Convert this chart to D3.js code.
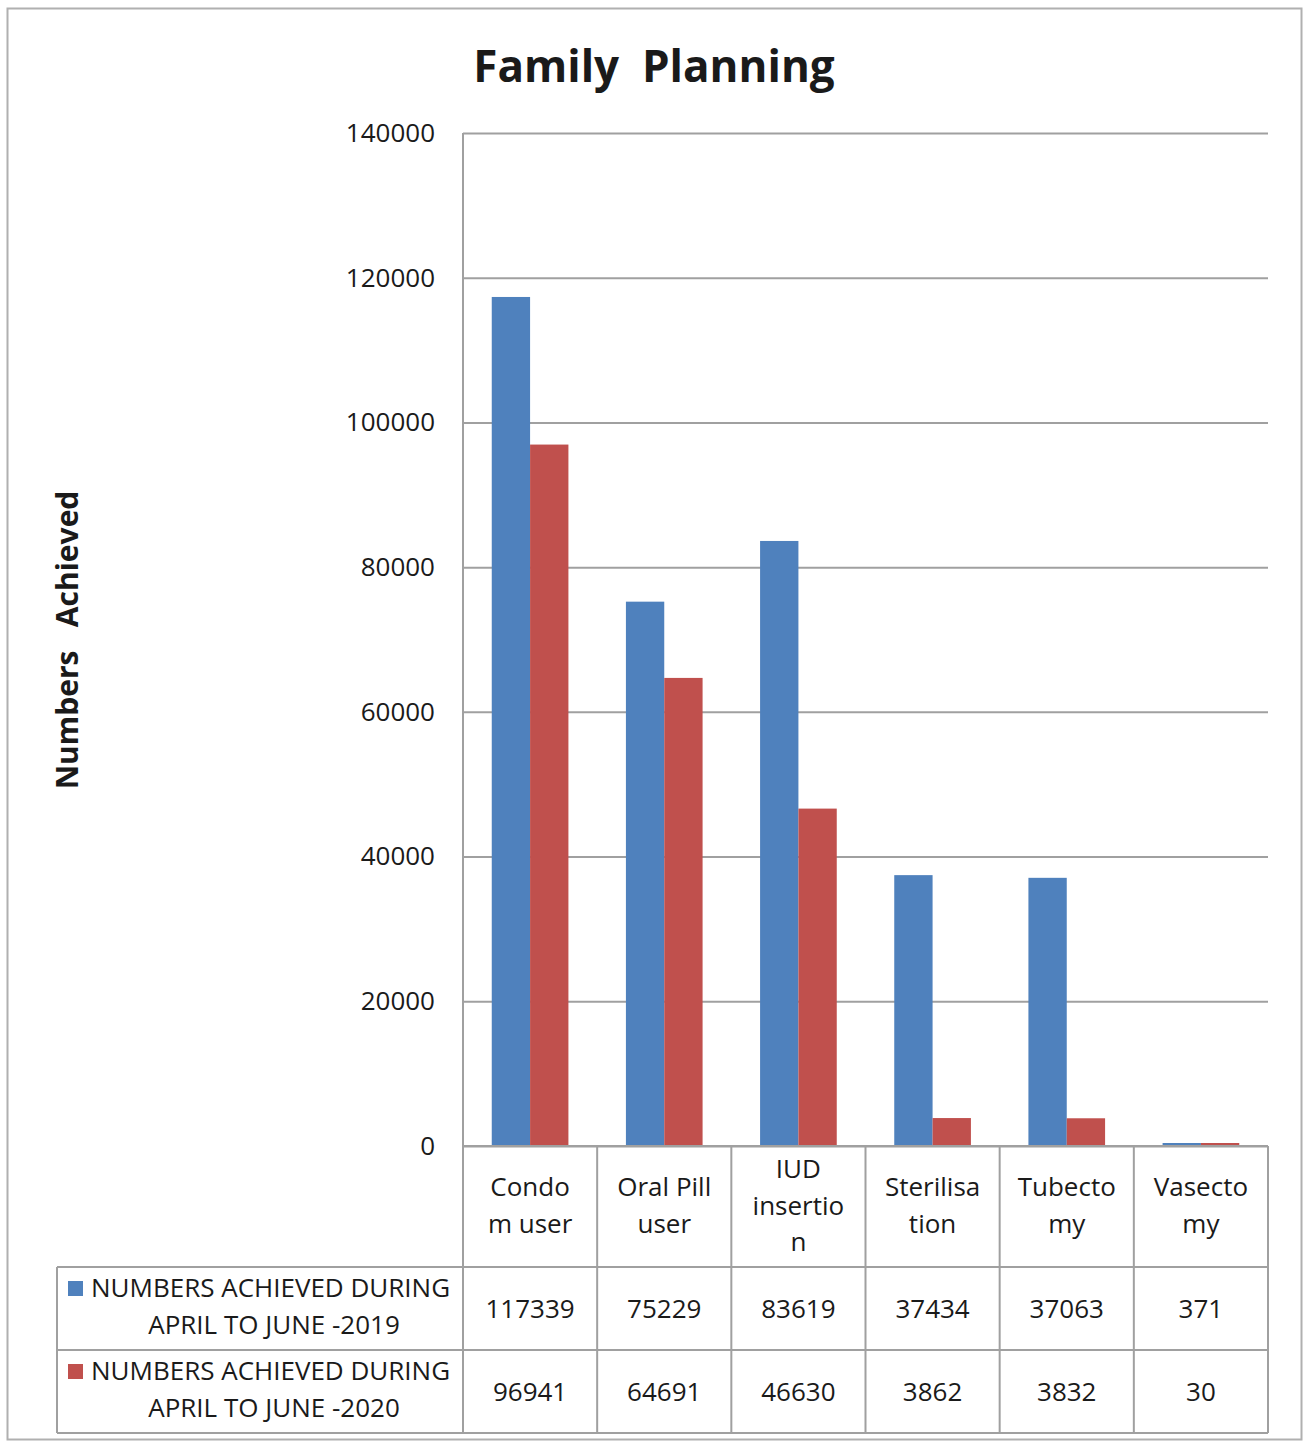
<!DOCTYPE html>
<html>
<head>
<meta charset="utf-8">
<script src="https://cdn.jsdelivr.net/npm/d3@7"></script>
<style>
  body { margin: 0; background: #fff; }
  text { font-family: 'Open Sans', sans-serif; fill: #1a1a1a; }
</style>
</head>
<body>
<div id="chart"></div>
<script>
// categories (as wrapped in the data table) and the two series
const categories = ['Condom user', 'Oral Pill user', 'IUD insertion', 'Sterilisation', 'Tubectomy', 'Vasectomy']
const categoryLines = [['Condo', 'm user'], ['Oral Pill', 'user'], ['IUD', 'insertio', 'n'], ['Sterilisa', 'tion'], ['Tubecto', 'my'], ['Vasecto', 'my']]
const seriesNames = ['NUMBERS ACHIEVED DURING APRIL TO JUNE -2019', 'NUMBERS ACHIEVED DURING APRIL TO JUNE -2020']
const legendLines = [['NUMBERS ACHIEVED DURING', 'APRIL TO JUNE -2019'], ['NUMBERS ACHIEVED DURING', 'APRIL TO JUNE -2020']]
const values2019 = [117339, 75229, 83619, 37434, 37063, 371]
const values2020 = [96941, 64691, 46630, 3862, 3832, 30]
const yTicks = [0, 20000, 40000, 60000, 80000, 100000, 120000, 140000]
const colors = ['#4f81bd', '#c0504d']

const W = 1303
const H = 1445
const plot = { left: 463, right: 1268, top: 133, bottom: 1146 }
const tableLeft = 57
const rowTops = [1146, 1267, 1350, 1433]
const gridColor = '#a0a0a0'
const fs = '26px'

const svg = d3.select('#chart').append('svg')
  .attr('width', W)
  .attr('height', H)

// outer frame
svg.append('rect')
  .attr('x', 7.5).attr('y', 8.5)
  .attr('width', 1294).attr('height', 1431)
  .attr('fill', 'none').attr('stroke', '#b0b0b0').attr('stroke-width', 2)

const x = d3.scaleBand()
  .domain(categories)
  .range([plot.left, plot.right])

const x1 = d3.scaleBand()
  .domain([0, 1])
  .range([0, x.bandwidth()])
  .paddingInner(0)
  .paddingOuter(0.75)

const y = d3.scaleLinear()
  .domain([0, 140000])
  .range([plot.bottom, plot.top])

// gridlines + y tick labels
const yAxis = svg.append('g')
  .attr('transform', 'translate(' + plot.left + ',0)')
  .call(d3.axisLeft(y).tickValues(yTicks).tickSize(-(plot.right - plot.left)).tickPadding(28).tickFormat(d3.format('d')))
yAxis.select('.domain').remove()
yAxis.selectAll('.tick line').attr('stroke', gridColor).attr('stroke-width', 2)
yAxis.selectAll('.tick text')
  .style('font-family', "'Open Sans', sans-serif")
  .style('font-size', fs)
  .attr('fill', '#1a1a1a')

// vertical axis line
svg.append('line')
  .attr('x1', plot.left).attr('x2', plot.left)
  .attr('y1', plot.top).attr('y2', plot.bottom)
  .attr('stroke', gridColor).attr('stroke-width', 2)

// bars
const series = [values2019, values2020]
series.forEach((vals, si) => {
  svg.append('g')
    .selectAll('rect')
    .data(vals)
    .join('rect')
    .attr('x', (d, i) => x(categories[i]) + x1(si))
    .attr('width', x1.bandwidth())
    .attr('y', d => y(0) - Math.max(3, y(0) - y(d)))
    .attr('height', d => Math.max(3, y(0) - y(d)))
    .attr('fill', colors[si])
})

// data table
const tbl = svg.append('g').attr('stroke', gridColor).attr('stroke-width', 2)
tbl.append('line').attr('x1', plot.left).attr('x2', plot.right).attr('y1', rowTops[0]).attr('y2', rowTops[0])
rowTops.slice(1).forEach(t => {
  tbl.append('line').attr('x1', tableLeft).attr('x2', plot.right).attr('y1', t).attr('y2', t)
})
categories.concat([null]).forEach((c, i) => {
  const xx = c ? x(c) : plot.right
  tbl.append('line').attr('x1', xx).attr('x2', xx).attr('y1', rowTops[0]).attr('y2', rowTops[3])
})
tbl.append('line').attr('x1', tableLeft).attr('x2', tableLeft).attr('y1', rowTops[1]).attr('y2', rowTops[3])

// category labels
const lineH = 36.5
categoryLines.forEach((lines, i) => {
  const cx = x(categories[i]) + x.bandwidth() / 2
  const cy = (rowTops[0] + rowTops[1]) / 2
  const t = svg.append('text')
    .attr('text-anchor', 'middle')
    .style('font-size', fs)
  lines.forEach((ln, k) => {
    t.append('tspan')
      .attr('x', cx)
      .attr('y', cy + (k - (lines.length - 1) / 2) * lineH + 8)
      .text(ln)
  })
})

// value cells
series.forEach((vals, si) => {
  const cy = (rowTops[si + 1] + rowTops[si + 2]) / 2
  vals.forEach((v, i) => {
    svg.append('text')
      .attr('x', x(categories[i]) + x.bandwidth() / 2)
      .attr('y', cy + 9)
      .attr('text-anchor', 'middle')
      .style('font-size', fs)
      .text(v)
  })
})

// legend keys in the table
legendLines.forEach((lines, si) => {
  const top = rowTops[si + 1]
  svg.append('rect')
    .attr('x', 68).attr('y', top + 14)
    .attr('width', 15).attr('height', 15)
    .attr('fill', colors[si])
  svg.append('text')
    .attr('x', 91).attr('y', top + 30)
    .style('font-size', fs)
    .text(lines[0])
  svg.append('text')
    .attr('x', 274).attr('y', top + 67)
    .attr('text-anchor', 'middle')
    .style('font-size', fs)
    .text(lines[1])
})

// title
svg.append('text')
  .attr('x', 654).attr('y', 82)
  .attr('text-anchor', 'middle')
  .style('font-size', '44px')
  .style('font-weight', 'bold')
  .attr('fill', '#000')
  .text('Family\u00a0\u00a0Planning')

// y axis title
svg.append('text')
  .attr('transform', 'translate(78,640) rotate(-90)')
  .attr('text-anchor', 'middle')
  .style('font-size', '30px')
  .style('font-weight', 'bold')
  .attr('fill', '#000')
  .text('Numbers\u00a0\u00a0\u00a0Achieved')
</script>
</body>
</html>
